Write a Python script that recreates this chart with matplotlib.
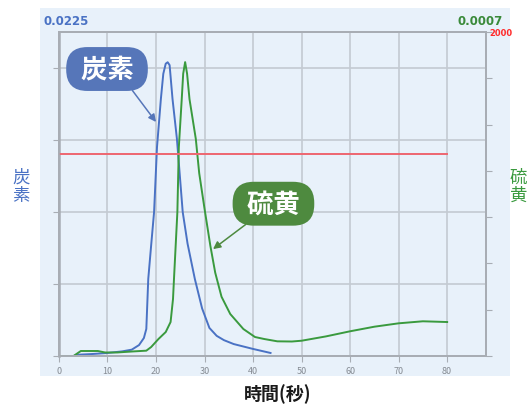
import matplotlib.pyplot as plt
from matplotlib.patches import Rectangle

# 炭素 (左軸) / 硫黄 (右軸) / 炉温 (赤, 0-2000)
t_c = [0, 3, 4, 7, 10, 13, 15, 16.5, 17.5, 18.0, 18.4, 19.0, 19.6, 20.2, 21.0, 21.5,
       22.0, 22.4, 22.8, 23.4, 24.3, 25.5, 26.5, 28.0, 29.5, 31.0, 32.5, 34.0, 36.0,
       40.0, 43.6]
carbon = [0, 0, 0.00009, 0.00014, 0.00021, 0.00032, 0.00044, 0.00076, 0.00125, 0.00188,
          0.00535, 0.0077, 0.0100, 0.0145, 0.01785, 0.0196, 0.0203, 0.0204, 0.0202,
          0.01785, 0.0151, 0.0100, 0.0078, 0.00535, 0.0033, 0.00195, 0.0014, 0.0011,
          0.00083, 0.00049, 0.00021]

t_s = [0, 3, 4.5, 8, 9.5, 12, 15, 18, 19, 20.5, 22, 23, 23.5, 23.7, 24.4, 24.7, 25.3,
       25.6, 26.0, 26.4, 26.9, 28.2, 28.9, 30.0, 31.2, 32.2, 33.5, 35.3, 38.0, 40.4,
       42.3, 45, 48, 50, 55, 60, 65, 70, 75, 80]
sulfur = [0, 0, 0.0000108, 0.0000108, 0.0000076, 0.0000076, 0.0000097, 0.0000115,
          0.0000194, 0.0000367, 0.0000518, 0.0000734, 0.000123, 0.000166, 0.000311,
          0.000451, 0.000555, 0.00061, 0.000635, 0.00061, 0.000555, 0.000469, 0.000395,
          0.000318, 0.000238, 0.000180, 0.000128, 0.0000907, 0.0000583, 0.000041,
          0.0000367, 0.0000317, 0.0000313, 0.000033, 0.0000423, 0.0000534, 0.0000633,
          0.0000706, 0.000075, 0.0000734]

t_temp = [0, 12.7, 12.7, 58.5, 58.5, 80]
temp = [1250, 1250, 1246, 1246, 1250, 1250]

blue = '#4a72c4'
green = '#3a9a3e'
red = '#ee6670'
grid_c = '#c3cad2'
spine_c = '#a8adb4'

plt.rcParams['font.family'] = ['Noto Sans CJK JP', 'DejaVu Sans']

fig = plt.figure(figsize=(5.28, 4.06), dpi=100)
fig.patches.append(Rectangle((0.0758, 0.0714), 0.890, 0.906, transform=fig.transFigure,
                             facecolor='#e8f1fa', edgecolor='none', zorder=-10))

ax = fig.add_axes([0.1117, 0.1207, 0.8087, 0.798])
ax.set_facecolor('none')
ax2 = ax.twinx()
ax3 = ax.twinx()

ax.set_xlim(0, 88)
ax.set_ylim(0, 0.0225)
ax2.set_ylim(0, 0.0007)
ax3.set_ylim(0, 2000)

ax.set_xticks(range(0, 81, 10))
ax.set_yticks([0, 0.005, 0.01, 0.015, 0.02])
ax.set_yticklabels([])
ax.grid(True, color=grid_c, lw=1.2)
ax.tick_params(axis='x', colors=spine_c, labelcolor='#858b93', labelsize=6.5, length=4)
ax.tick_params(axis='y', colors=spine_c, length=4)

ax2.set_yticks([i * 0.0001 for i in range(8)])
ax2.set_yticklabels([])
ax2.tick_params(axis='y', colors=spine_c, length=4)
ax3.set_yticks([])

for a in (ax, ax2, ax3):
    for s in a.spines.values():
        s.set_color(spine_c)
        s.set_linewidth(1.2)
ax.spines['left'].set_linewidth(1.8)

ax.plot(t_c, carbon, color=blue, lw=1.4)
ax2.plot(t_s, sulfur, color=green, lw=1.4)
ax3.plot(t_temp, temp, color=red, lw=1.4)

# 軸上端の値
fig.text(0.083, 0.948, '0.0225', color=blue, fontsize=8.5, fontweight='bold',
         family='DejaVu Sans', ha='left', va='center')
fig.text(0.953, 0.948, '0.0007', color='#3a8a3a', fontsize=8.5, fontweight='bold',
         family='DejaVu Sans', ha='right', va='center')
fig.text(0.926, 0.918, '2000', color='#ff2a2a', fontsize=6, fontweight='bold',
         family='DejaVu Sans', ha='left', va='center')

# 軸ラベル
fig.text(0.040, 0.540, '炭\n素', color=blue, fontsize=12.5, ha='center', va='center',
         linespacing=1.0)
fig.text(0.982, 0.540, '硫\n黄', color=green, fontsize=12.5, ha='center', va='center',
         linespacing=1.0)
fig.text(0.526, 0.028, '時間(秒)', color='#1a1a1a', fontsize=13, fontweight='bold',
         ha='center', va='center')

# 吹き出し
ax.annotate(' 炭素 ', xy=(20.0, 0.01625), xytext=(9.9, 0.01993), color='white',
            fontsize=19, fontweight='bold', ha='center', va='center',
            bbox=dict(boxstyle='round,pad=0.32,rounding_size=0.8', fc='#5676b9', ec='none'),
            arrowprops=dict(arrowstyle='-|>', color='#5676b9', lw=1.1,
                            mutation_scale=11, shrinkA=0, shrinkB=0,
                            relpos=(0.8, 0.0)))
ax2.annotate(' 硫黄 ', xy=(31.75, 0.000231), xytext=(44.2, 0.000329), color='white',
             fontsize=19, fontweight='bold', ha='center', va='center',
             bbox=dict(boxstyle='round,pad=0.32,rounding_size=0.8', fc='#4e8a3f', ec='none'),
             arrowprops=dict(arrowstyle='-|>', color='#4e8a3f', lw=1.1,
                             mutation_scale=11, shrinkA=0, shrinkB=0,
                             relpos=(0.22, 0.0)))

fig.savefig('out.png', dpi=100)
